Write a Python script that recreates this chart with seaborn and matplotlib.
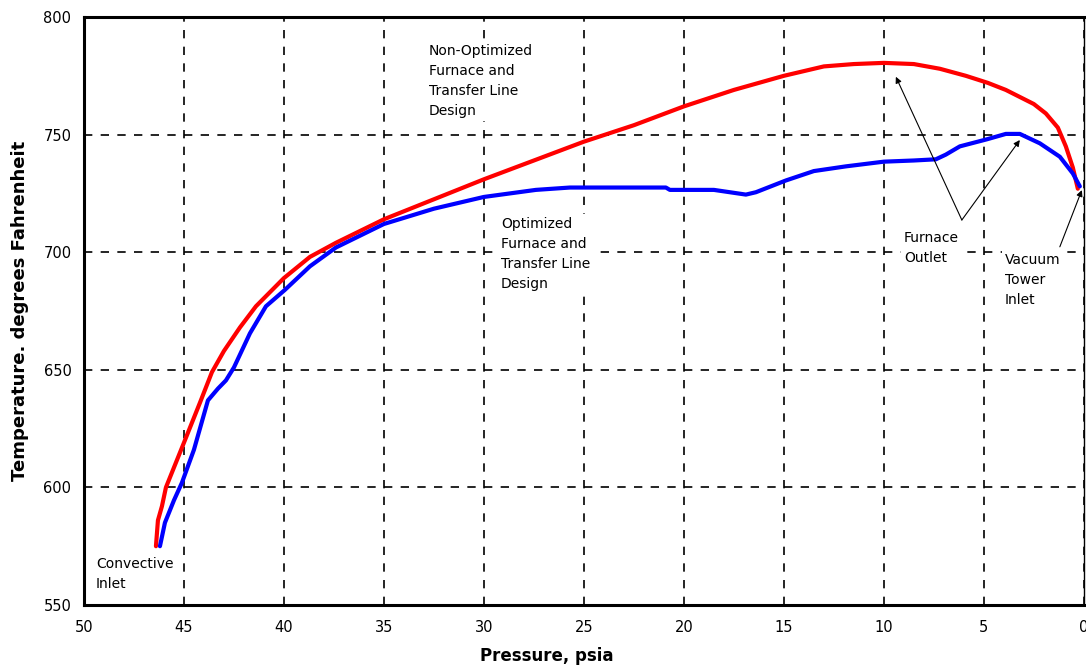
import pandas as pd
import seaborn as sns
import matplotlib.pyplot as plt

# Non-optimized furnace / transfer line (red)
red_p = [46.4, 46.3, 46.1, 45.9, 45.0, 44.2, 43.6, 43.0, 42.2, 41.4, 40.0, 38.7, 37.4,
         36.2, 35.0, 32.5, 30.0, 27.5, 25.0, 22.5, 20.0, 17.5, 15.0, 13.0, 11.5, 10.0,
         8.5, 7.2, 5.9, 4.8, 3.9, 2.5, 1.9, 1.3, 0.9, 0.55, 0.3]
red_t = [575, 586, 592, 600, 619, 636, 649, 658, 668, 677, 689, 698, 704,
         709, 714, 722.5, 731, 739, 747, 754, 762, 769, 775, 779, 780, 780.5,
         780, 778, 775, 772, 769, 763, 759, 753, 745, 736, 727]

# Optimized furnace / transfer line (blue)
blue_p = [46.2, 45.95, 45.5, 45.1, 44.5, 43.8, 43.3, 42.9, 42.5, 41.7, 40.9, 39.95, 38.7,
          37.4, 36.2, 35.0, 32.5, 30.0, 27.4, 25.7, 20.9, 20.7, 18.5, 16.9, 16.4, 14.9,
          13.5, 11.9, 10.0, 8.5, 7.4, 6.9, 6.2, 4.85, 3.9, 3.2, 2.2, 1.2, 0.55, 0.2]
blue_t = [575, 585, 594.5, 602, 616, 637, 642, 645.5, 651, 665.5, 677, 684, 694,
          702, 707, 712, 718.5, 723.5, 726.5, 727.5, 727.5, 726.5, 726.5, 724.5, 725.5, 730.5,
          734.5, 736.5, 738.5, 739, 739.5, 741.5, 745, 748, 750.3, 750.3, 746.3, 740.6, 733.5, 728]

x_ticks = list(range(0, 55, 5))
y_ticks = list(range(550, 850, 50))

df_red = pd.DataFrame({"p": red_p, "t": red_t})
df_blue = pd.DataFrame({"p": blue_p, "t": blue_t})

sns.set_style("white")
plt.rcParams["font.family"] = ["DejaVu Sans"]
plt.rcParams["text.color"] = "black"
plt.rcParams["axes.labelcolor"] = "black"
plt.rcParams["xtick.color"] = "black"
plt.rcParams["ytick.color"] = "black"

fig = plt.figure(figsize=(10.86, 6.70), dpi=100)
ax = fig.add_axes([0.0773, 0.097, 0.9207, 0.8776])

# grid first so the curves sit on top
ax.set_axisbelow(True)
ax.grid(True, color="black", linestyle=(0, (5, 5)), linewidth=1.2)

sns.lineplot(data=df_red, x="p", y="t", color="#ff0000", linewidth=3.0, sort=False, ax=ax)
sns.lineplot(data=df_blue, x="p", y="t", color="#0000ff", linewidth=3.0, sort=False, ax=ax)

ax.set_xlim(50, 0)
ax.set_ylim(550, 800)
ax.set_xticks(x_ticks)
ax.set_yticks(y_ticks)
ax.tick_params(axis="x", direction="inout", length=7, width=1.2, pad=7, labelsize=10.5)
ax.tick_params(axis="y", direction="out", length=4, width=1.2, pad=5, labelsize=10.5)

for side in ["left", "bottom", "top"]:
    ax.spines[side].set_linewidth(2.2)
    ax.spines[side].set_color("black")
ax.spines["right"].set_linewidth(1.0)
ax.spines["right"].set_color("black")

ax.set_xlabel("Pressure, psia", fontsize=12, fontweight="bold")
ax.set_ylabel("Temperature. degrees Fahrenheit", fontsize=13, fontweight="bold")
ax.xaxis.set_label_coords(0.463, -0.072)
ax.yaxis.set_label_coords(-0.055, 0.5)

# text notes (white box hides the grid behind them)
note = dict(fontsize=10, ha="left", va="top", linespacing=1.55, color="black", zorder=1.5,
            bbox=dict(facecolor="white", edgecolor="none", pad=2))
ax.text(32.75, 788.5, "Non-Optimized\nFurnace and\nTransfer Line\nDesign", **note)
ax.text(29.15, 715, "Optimized\nFurnace and\nTransfer Line\nDesign", **note)
ax.text(49.4, 570.5, "Convective\nInlet", **note)
ax.text(9.0, 709, "Furnace\nOutlet", **note)
ax.text(3.95, 699.5, "Vacuum\nTower\nInlet", **note)

arrow = dict(arrowstyle="-|>", color="black", lw=0.8, mutation_scale=9, shrinkA=0, shrinkB=0)
ax.annotate("", xy=(9.4, 774.6), xytext=(6.1, 713.7), arrowprops=arrow)
ax.annotate("", xy=(3.2, 747.7), xytext=(6.1, 713.7), arrowprops=arrow)
ax.annotate("", xy=(0.1, 726.4), xytext=(1.2, 702.3), arrowprops=arrow)

fig.savefig("out.png", dpi=100)
